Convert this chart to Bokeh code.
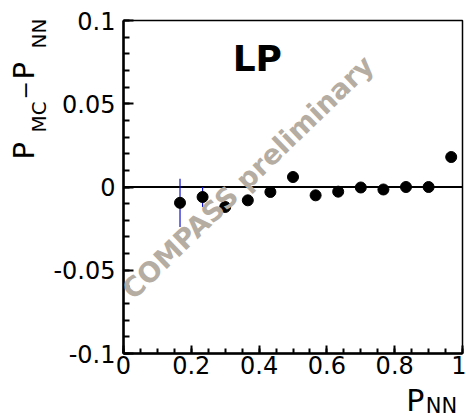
import numpy as np
from bokeh.plotting import figure
from bokeh.layouts import row, column
from bokeh.models import Label, Span, FixedTicker, ColumnDataSource, Range1d
from bokeh.embed import file_html
from bokeh.resources import INLINE

# ---- data ----
p_nn = [0.1667, 0.2333, 0.3000, 0.3667, 0.4333, 0.5000, 0.5667,
        0.6333, 0.7000, 0.7667, 0.8333, 0.9000, 0.9667]
diff = [-0.0095, -0.0060, -0.0120, -0.0080, -0.0030, 0.0060, -0.0050,
        -0.0028, -0.0003, -0.0015, 0.0000, 0.0000, 0.0180]
err = [0.0145, 0.0060, 0.0025, 0.0020, 0.0020, 0.0020, 0.0020,
       0.0020, 0.0020, 0.0020, 0.0020, 0.0020, 0.0025]

x_tick_values = [0, 0.2, 0.4, 0.6, 0.8, 1.0]
x_tick_labels = ["0", "0.2", "0.4", "0.6", "0.8", "1"]
y_tick_values = [-0.1, -0.05, 0, 0.05, 0.1]
y_tick_labels = ["-0.1", "-0.05", "0", "0.05", "0.1"]

panel_label = "LP"
watermark = "COMPASS preliminary"

FONT = "DejaVu Sans"

# ---- sizes (px) ----
TOTAL_W, TOTAL_H = 466, 420
YT_W = 50                      # strip for the y title
MAIN_W = TOTAL_W - YT_W
MAIN_H = 383
XT_H = TOTAL_H - MAIN_H        # strip for the x title

src = ColumnDataSource(dict(
    x=p_nn, y=diff,
    lo=[d - e for d, e in zip(diff, err)],
    hi=[d + e for d, e in zip(diff, err)],
))

p = figure(width=MAIN_W, height=MAIN_H, x_range=(0, 1), y_range=(-0.1, 0.1),
           output_backend="svg", toolbar_location=None,
           min_border_left=73, min_border_right=4,
           min_border_top=20, min_border_bottom=30)
p.grid.visible = False
p.background_fill_color = "white"
p.border_fill_color = "white"
p.outline_line_color = "black"
p.outline_line_width = 1.5

p.xaxis.ticker = FixedTicker(ticks=x_tick_values,
                             minor_ticks=list(np.round(np.arange(0, 1.0001, 0.05), 4)))
p.yaxis.ticker = FixedTicker(ticks=y_tick_values,
                             minor_ticks=list(np.round(np.arange(-0.1, 0.1001, 0.01), 4)))
p.xaxis.major_label_overrides = {v: s for v, s in zip(x_tick_values, x_tick_labels)}
p.yaxis.major_label_overrides = {v: s for v, s in zip(y_tick_values, y_tick_labels)}

for ax in (p.xaxis[0], p.yaxis[0]):
    ax.axis_line_width = 2.5
    ax.axis_line_color = "black"
    ax.major_tick_line_color = "black"
    ax.minor_tick_line_color = "black"
    ax.major_tick_line_width = 2
    ax.minor_tick_line_width = 2
    ax.major_tick_out = 0
    ax.minor_tick_out = 0
    ax.major_label_text_font = FONT
    ax.major_label_text_font_size = "24px"
    ax.major_label_text_color = "black"

p.xaxis.major_tick_in = 8
p.xaxis.minor_tick_in = 5
p.xaxis.major_label_standoff = 2
p.yaxis.major_tick_in = 10
p.yaxis.minor_tick_in = 6
p.yaxis.major_label_standoff = 8

zero = Span(location=0, dimension="width", line_color="black", line_width=2, level="underlay")
p.add_layout(zero)

p.segment(x0="x", y0="lo", x1="x", y1="hi", source=src, line_color="#1010d0", line_width=1.2)
p.scatter(x="x", y="y", source=src, size=11, marker="circle",
          fill_color="black", line_color="black")

p.add_layout(Label(x=0.322, y=0.0773, text=panel_label, text_font=FONT,
                   text_font_size="36px", text_font_style="bold", text_color="black",
                   text_align="left", text_baseline="alphabetic"))

p.add_layout(Label(x=0.366, y=0.006, text=watermark, text_font=FONT,
                   text_font_size="27.5px", text_font_style="bold", text_color="#b5aca2",
                   angle=44, angle_units="deg",
                   text_align="center", text_baseline="middle"))


def strip(w, h):
    f = figure(width=w, height=h, x_range=Range1d(0, w), y_range=Range1d(0, h),
               output_backend="svg", toolbar_location=None, min_border=0,
               x_axis_location=None, y_axis_location=None)
    f.grid.visible = False
    f.outline_line_color = None
    f.background_fill_color = "white"
    f.border_fill_color = "white"
    return f


def lab(f, x, y, t, size, angle=0):
    f.add_layout(Label(x=x, y=y, text=t, text_font=FONT, text_font_size=size,
                       text_color="black", angle=angle, angle_units="deg",
                       text_align="left", text_baseline="alphabetic"))


# y title strip: P_MC − P_NN (rotated, reading upward)
yt = strip(YT_W, TOTAL_H)
lab(yt, 23, 261, "P", "29px", 90)
lab(yt, 38, 288, "MC", "20px", 90)
lab(yt, 24, 321, "\u2212", "22px", 90)
lab(yt, 23, 341, "P", "29px", 90)
lab(yt, 38, 372, "NN", "20px", 90)

# x title strip: P_NN
xt = strip(MAIN_W, XT_H)
lab(xt, 347, 20.5, "P", "30px")
lab(xt, 371, 14.6, "NN", "21px")

layout = row(yt, column(p, xt))

open("out.html", "w").write(file_html(layout, INLINE))
